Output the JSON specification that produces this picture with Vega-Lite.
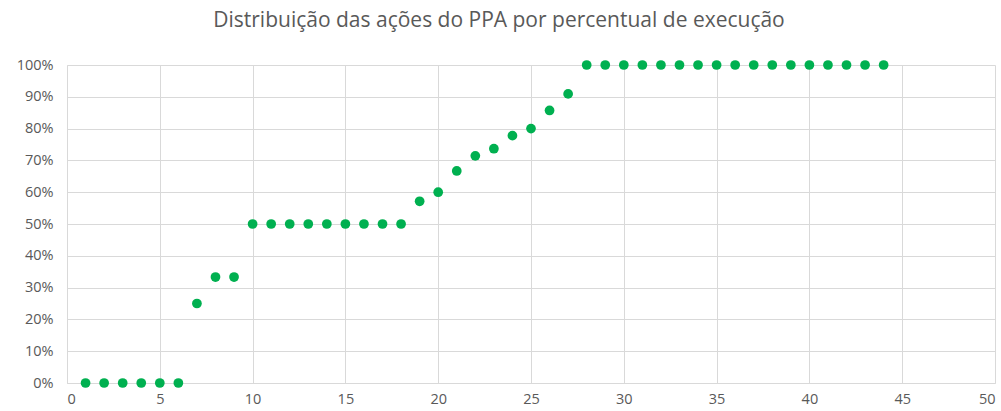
{
  "$schema": "https://vega.github.io/schema/vega-lite/v6.json",
  "autosize": {"type": "none"},
  "padding": {"left": 67, "top": 65, "right": 6, "bottom": 28},
  "width": 928,
  "height": 318,
  "background": "white",
  "title": {
    "text": "Distribuição das ações do PPA por percentual de execução",
    "font": "Open Sans",
    "fontSize": 21,
    "fontWeight": "normal",
    "color": "#595959",
    "anchor": "middle",
    "dx": -32,
    "offset": 26
  },
  "config": {
    "view": {"stroke": null},
    "axis": {
      "labelFont": "Open Sans",
      "labelFontSize": 14.5,
      "labelColor": "#595959",
      "gridColor": "#d9d9d9",
      "gridWidth": 1,
      "domainColor": "#d9d9d9",
      "ticks": false,
      "title": null
    }
  },
  "data": {
    "values": [
      {"n": 1, "p": 0}, {"n": 2, "p": 0}, {"n": 3, "p": 0}, {"n": 4, "p": 0}, {"n": 5, "p": 0}, {"n": 6, "p": 0},
      {"n": 7, "p": 0.25}, {"n": 8, "p": 0.3333}, {"n": 9, "p": 0.3333},
      {"n": 10, "p": 0.5}, {"n": 11, "p": 0.5}, {"n": 12, "p": 0.5}, {"n": 13, "p": 0.5}, {"n": 14, "p": 0.5},
      {"n": 15, "p": 0.5}, {"n": 16, "p": 0.5}, {"n": 17, "p": 0.5}, {"n": 18, "p": 0.5},
      {"n": 19, "p": 0.5714}, {"n": 20, "p": 0.6}, {"n": 21, "p": 0.6667}, {"n": 22, "p": 0.7143},
      {"n": 23, "p": 0.7368}, {"n": 24, "p": 0.7778}, {"n": 25, "p": 0.8}, {"n": 26, "p": 0.8571}, {"n": 27, "p": 0.9091},
      {"n": 28, "p": 1}, {"n": 29, "p": 1}, {"n": 30, "p": 1}, {"n": 31, "p": 1}, {"n": 32, "p": 1}, {"n": 33, "p": 1},
      {"n": 34, "p": 1}, {"n": 35, "p": 1}, {"n": 36, "p": 1}, {"n": 37, "p": 1}, {"n": 38, "p": 1}, {"n": 39, "p": 1},
      {"n": 40, "p": 1}, {"n": 41, "p": 1}, {"n": 42, "p": 1}, {"n": 43, "p": 1}, {"n": 44, "p": 1}
    ]
  },
  "mark": {"type": "point", "filled": true, "opacity": 1, "color": "#00b050", "size": 95},
  "encoding": {
    "x": {
      "field": "n", "type": "quantitative",
      "scale": {"domain": [0, 50], "nice": false},
      "axis": {"values": [0, 5, 10, 15, 20, 25, 30, 35, 40, 45, 50], "labelPadding": 9}
    },
    "y": {
      "field": "p", "type": "quantitative",
      "scale": {"domain": [0, 1], "nice": false},
      "axis": {"values": [0, 0.1, 0.2, 0.3, 0.4, 0.5, 0.6, 0.7, 0.8, 0.9, 1], "format": ".0%", "labelPadding": 14}
    }
  }
}
